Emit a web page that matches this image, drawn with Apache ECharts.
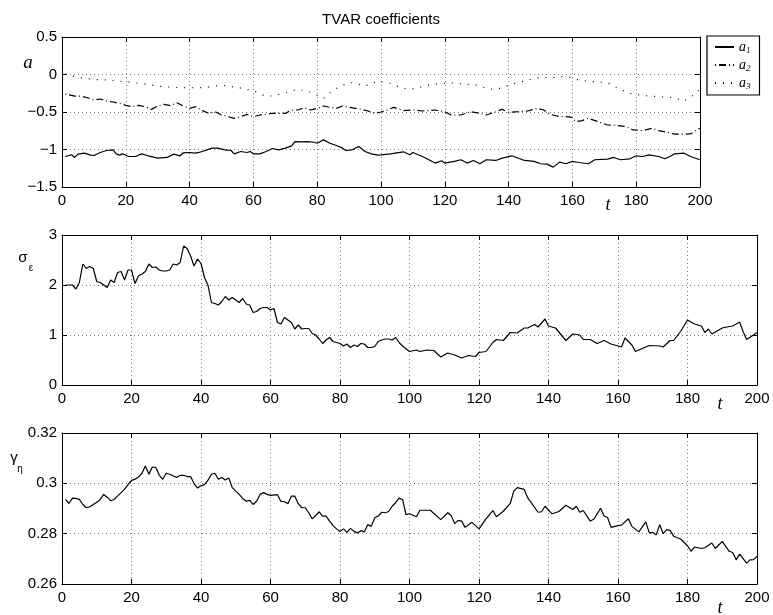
<!DOCTYPE html>
<html><head><meta charset="utf-8">
<script src="https://cdn.jsdelivr.net/npm/echarts@6/dist/echarts.min.js"></script>
<style>html,body{margin:0;padding:0;background:#fff}#c{width:773px;height:615px}</style>
</head><body><div id="c"></div>
<script>
// ---- data ----
const tA1 = [1,3,4,5,7,9,10,12,14,16,17,18,19,21,23,25,27,30,33,35,37,38,40,42,44,47,49,51,53,54,56,58,59,60,62,64,66,68,70,72,73,75,77,79,80,81,82,84,86,88,89,91,93,95,97,99,100,103,107,109,110,113,117,119,120,123,125,127,129,131,133,136,138,141,145,148,150,152,154,156,158,160,162,165,167,171,173,175,178,180,182,184,187,189,191,192,195,197,200];
const a1 = [-1.093,-1.07,-1.106,-1.062,-1.049,-1.075,-1.08,-1.04,-1.013,-1.004,-1.058,-1.075,-1.058,-1.093,-1.093,-1.058,-1.084,-1.115,-1.106,-1.062,-1.084,-1.044,-1.04,-1.049,-1.027,-0.982,-0.982,-1.004,-1.013,-1.058,-1.027,-1.04,-1.027,-1.058,-1.058,-1.027,-0.987,-1.004,-0.982,-0.951,-0.894,-0.898,-0.894,-0.903,-0.916,-0.894,-0.872,-0.916,-0.947,-0.982,-1.013,-1.004,-0.96,-1.027,-1.058,-1.075,-1.071,-1.058,-1.031,-1.071,-1.04,-1.093,-1.181,-1.15,-1.181,-1.159,-1.137,-1.181,-1.146,-1.19,-1.137,-1.146,-1.115,-1.084,-1.146,-1.159,-1.19,-1.195,-1.235,-1.168,-1.19,-1.159,-1.173,-1.19,-1.137,-1.128,-1.106,-1.137,-1.124,-1.084,-1.093,-1.071,-1.093,-1.124,-1.084,-1.058,-1.049,-1.093,-1.137];
const tA2 = [1,4,6,8,10,12,14,16,18,20,22,24,26,28,30,32,34,36,38,40,42,44,46,48,50,52,54,56,58,60,62,64,66,68,70,72,74,76,78,80,82,84,86,88,90,92,94,96,98,100,102,104,107,110,113,117,120,122,125,128,131,133,136,138,140,143,146,149,151,153,156,158,160,161,163,165,169,171,174,177,179,182,185,187,190,192,195,197,199,200];
const a2 = [-0.261,-0.288,-0.288,-0.31,-0.34,-0.327,-0.354,-0.367,-0.385,-0.411,-0.429,-0.411,-0.429,-0.465,-0.42,-0.398,-0.416,-0.376,-0.42,-0.451,-0.429,-0.482,-0.518,-0.496,-0.54,-0.562,-0.584,-0.562,-0.531,-0.562,-0.54,-0.527,-0.518,-0.518,-0.518,-0.473,-0.473,-0.442,-0.473,-0.451,-0.42,-0.438,-0.451,-0.42,-0.438,-0.451,-0.465,-0.487,-0.518,-0.5,-0.473,-0.438,-0.482,-0.473,-0.487,-0.473,-0.496,-0.54,-0.54,-0.496,-0.518,-0.54,-0.496,-0.465,-0.504,-0.496,-0.487,-0.451,-0.473,-0.531,-0.562,-0.562,-0.571,-0.628,-0.615,-0.584,-0.642,-0.673,-0.681,-0.695,-0.739,-0.748,-0.717,-0.748,-0.774,-0.796,-0.796,-0.792,-0.739,-0.717];
const tA3 = [1,5,10,15,20,25,30,35,40,45,50,55,60,63,66,70,74,78,82,85,88,91,95,99,103,106,109,112,115,119,122,126,130,134,137,142,146,150,154,158,162,167,171,175,179,183,187,192,195,198,200];
const a3 = [0.004,-0.04,-0.066,-0.075,-0.097,-0.119,-0.155,-0.173,-0.177,-0.173,-0.142,-0.173,-0.217,-0.274,-0.288,-0.243,-0.195,-0.239,-0.319,-0.208,-0.142,-0.106,-0.155,-0.088,-0.119,-0.173,-0.199,-0.173,-0.142,-0.119,-0.111,-0.128,-0.142,-0.199,-0.186,-0.119,-0.075,-0.04,-0.04,-0.022,-0.075,-0.097,-0.111,-0.199,-0.265,-0.283,-0.296,-0.31,-0.354,-0.274,-0.199];
const tSig = [1,3,4,5,6,7,8,9,10,11,12,13,14,15,16,17,18,19,20,21,22,23,24,25,26,27,28,29,30,31,32,33,34,35,36,37,38,39,40,41,42,43,44,45,46,47,48,49,50,51,52,53,54,55,56,57,58,59,60,61,62,63,64,65,66,67,68,69,70,71,72,73,74,75,76,77,78,79,80,81,82,83,84,85,86,87,88,89,90,91,92,93,94,95,96,97,98,100,102,103,105,107,109,111,113,115,117,119,120,122,124,125,127,129,131,133,134,136,137,139,140,142,145,147,149,150,152,154,156,158,161,162,164,165,167,169,172,173,175,176,178,180,182,184,185,186,187,189,190,192,193,195,196,197,199,200];
const sigma = [2.0,2.0,1.92,2.05,2.42,2.33,2.37,2.33,2.07,2.05,2.0,1.95,2.1,2.05,2.25,2.27,2.1,2.3,2.3,2.03,2.18,2.22,2.27,2.42,2.35,2.36,2.3,2.28,2.28,2.3,2.42,2.4,2.45,2.78,2.73,2.58,2.38,2.52,2.43,2.15,2.0,1.65,1.63,1.6,1.67,1.77,1.7,1.75,1.7,1.65,1.73,1.62,1.6,1.45,1.47,1.53,1.55,1.55,1.5,1.53,1.25,1.22,1.35,1.3,1.25,1.12,1.2,1.12,1.13,1.13,1.03,1.0,0.92,0.83,0.9,0.95,0.87,0.85,0.83,0.78,0.82,0.75,0.8,0.77,0.83,0.82,0.75,0.75,0.77,0.87,0.9,0.92,0.92,0.9,0.95,0.85,0.78,0.67,0.70,0.67,0.70,0.69,0.56,0.64,0.60,0.54,0.59,0.57,0.65,0.67,0.85,0.91,0.89,1.05,1.04,1.14,1.14,1.21,1.16,1.32,1.18,1.14,0.89,1.02,1.0,0.91,0.91,0.83,0.89,0.82,0.76,0.94,0.8,0.67,0.73,0.79,0.78,0.76,0.89,0.89,1.07,1.3,1.22,1.18,1.05,1.12,1.02,1.1,1.14,1.17,1.18,1.26,1.07,0.91,1.0,1.05];
const tGam = [1,2,3,4,5,6,7,8,10,11,12,13,14,15,17,18,19,20,21,22,23,24,25,26,27,28,29,30,31,33,34,35,36,37,38,39,40,41,42,43,44,45,46,47,48,49,50,51,52,53,54,55,56,57,58,59,60,62,63,64,65,66,67,68,69,70,71,72,73,74,75,76,77,78,79,80,81,82,83,84,85,86,87,88,89,90,91,92,93,94,95,96,97,98,99,100,102,103,106,109,111,112,113,114,115,116,118,120,122,124,125,127,129,130,131,133,134,137,138,139,141,143,145,147,148,149,150,152,153,155,156,157,158,160,161,163,164,166,168,169,170,171,172,173,174,175,176,178,180,181,182,184,185,187,188,190,192,193,194,195,197,198,199,200];
const gamma = [0.2936,0.292,0.2941,0.294,0.2936,0.2916,0.2903,0.2907,0.2925,0.2936,0.2956,0.2945,0.2931,0.2936,0.2963,0.2976,0.2995,0.3012,0.3016,0.3025,0.304,0.3069,0.3036,0.3065,0.3063,0.3032,0.3016,0.304,0.3036,0.3023,0.3032,0.3032,0.3027,0.3027,0.2999,0.2981,0.299,0.2995,0.3012,0.3036,0.304,0.3016,0.3023,0.3013,0.3021,0.2983,0.2969,0.2956,0.294,0.2929,0.2932,0.2916,0.2929,0.2956,0.2963,0.2956,0.2952,0.2955,0.2928,0.2927,0.2919,0.2949,0.2949,0.2919,0.2903,0.2903,0.2883,0.2859,0.2872,0.2887,0.287,0.287,0.285,0.2832,0.2819,0.2809,0.2819,0.2805,0.2821,0.2809,0.2803,0.2812,0.2807,0.2836,0.2829,0.2863,0.287,0.2885,0.2883,0.2888,0.2909,0.2923,0.2941,0.2936,0.2876,0.2879,0.2867,0.2893,0.2893,0.2856,0.2883,0.2872,0.284,0.2853,0.285,0.2825,0.2845,0.2819,0.2859,0.2892,0.2867,0.2889,0.292,0.2969,0.2983,0.2976,0.2943,0.2885,0.2887,0.2909,0.2879,0.2888,0.2913,0.2896,0.2909,0.2885,0.2892,0.285,0.2857,0.2901,0.287,0.2864,0.2825,0.2832,0.2834,0.2859,0.2829,0.2807,0.2847,0.2803,0.2805,0.2795,0.2836,0.28,0.2816,0.2813,0.279,0.2779,0.2752,0.273,0.2747,0.2741,0.2744,0.2763,0.2741,0.2769,0.273,0.2725,0.2696,0.2719,0.2683,0.2696,0.2697,0.2709];
const seriesNames = ['a1','a2','a3'];
const xRange = [0, 200, 20];
const yRanges = [[-1.5, 0.5, 0.5], [0, 3, 1], [0.26, 0.32, 0.02]];

// ---- chart ----
const chart = echarts.init(document.getElementById('c'), null, {renderer:'canvas'});
const grids = [
  {left:62, top:37, width:638, height:150},
  {left:62, top:235, width:695, height:150},
  {left:62, top:433, width:695, height:151}
];
const FONT = 'Liberation Sans';
const gridLine = {show:true, lineStyle:{color:'#777', width:1, type:[1,3]}};
const xAxes = [], yAxes = [];
grids.forEach((g, gi) => {
  const common = {gridIndex:gi, type:'value', min:xRange[0], max:xRange[1], interval:xRange[2],
    axisLine:{show:true, onZero:false, lineStyle:{color:'#000', width:1}},
    axisTick:{show:true, inside:true, length:5, lineStyle:{color:'#000'}}};
  xAxes.push(Object.assign({}, common, {position:'bottom',
    axisLabel:{color:'#000', fontSize:15, fontFamily:FONT, margin:6},
    splitLine:gridLine}));
  xAxes.push(Object.assign({}, common, {position:'top', axisLabel:{show:false}, splitLine:{show:false}}));
  const [ymin, ymax, yint] = yRanges[gi];
  const ycommon = {gridIndex:gi, type:'value', min:ymin, max:ymax, interval:yint,
    axisLine:{show:true, onZero:false, lineStyle:{color:'#000', width:1}},
    axisTick:{show:true, inside:true, length:5, lineStyle:{color:'#000'}}};
  yAxes.push(Object.assign({}, ycommon, {position:'left',
    axisLabel:{color:'#000', fontSize:15, fontFamily:FONT, margin:5,
      formatter: v => String(+v.toFixed(4)).replace('-', '\u2212')},
    splitLine:gridLine}));
  yAxes.push(Object.assign({}, ycommon, {position:'right', axisLabel:{show:false}, splitLine:{show:false}}));
});
const zip = (t, v) => t.map((x, i) => [x, v[i]]);
const lineSeries = (name, t, v, gi, type) => ({
  name, type:'line', xAxisIndex:2*gi, yAxisIndex:2*gi, data:zip(t, v),
  symbol:'none', showSymbol:false, animation:false, silent:true,
  lineStyle:{color:'#000', width:1.2, type}, itemStyle:{color:'#000'}
});
const option = {
  animation:false,
  grid:grids,
  xAxis:xAxes,
  yAxis:yAxes,
  legend:{
    data:seriesNames, orient:'vertical', left:707, top:36,
    padding:[4,9,4,7], itemGap:3, itemWidth:19, itemHeight:14,
    backgroundColor:'#fff', borderColor:'#000', borderWidth:1.2, borderRadius:0,
    selectedMode:false,
    itemStyle:{opacity:0},
    formatter: n => '{i|a}{s|' + n.slice(1) + '}',
    textStyle:{color:'#000', rich:{
      i:{fontFamily:'Liberation Serif', fontStyle:'italic', fontSize:14, lineHeight:16, color:'#000'},
      s:{fontFamily:'Liberation Serif', fontStyle:'italic', fontSize:9, lineHeight:9, verticalAlign:'bottom', color:'#000'}
    }}
  },
  series:[
    lineSeries(seriesNames[0], tA1, a1, 0, 'solid'),
    lineSeries(seriesNames[1], tA2, a2, 0, [1,3,7,3]),
    lineSeries(seriesNames[2], tA3, a3, 0, [1,7]),
    lineSeries('sigma', tSig, sigma, 1, 'solid'),
    lineSeries('gamma', tGam, gamma, 2, 'solid')
  ],
  graphic:[
    {type:'text', x:381, y:20, style:{text:'TVAR coefficients', font:'15px "Liberation Sans"', fill:'#000', align:'center', verticalAlign:'middle'}},
    {type:'text', x:28, y:63, style:{text:'a', font:'italic 19px "Liberation Serif"', fill:'#000', align:'center', verticalAlign:'middle'}},
    {type:'text', x:23, y:258, style:{text:'σ', font:'15px "Liberation Sans"', fill:'#000', align:'center', verticalAlign:'middle'}},
    {type:'text', x:31, y:268, style:{text:'ε', font:'10px "Liberation Sans"', fill:'#000', align:'center', verticalAlign:'middle'}},
    {type:'text', x:14, y:458, style:{text:'γ', font:'15px "Liberation Sans"', fill:'#000', align:'center', verticalAlign:'middle'}},
    {type:'text', x:20, y:469, style:{text:'η', font:'10px "Liberation Sans"', fill:'#000', align:'center', verticalAlign:'middle'}},
    {type:'text', x:608, y:205, style:{text:'t', font:'italic 18px "Liberation Serif"', fill:'#000', align:'center', verticalAlign:'middle'}},
    {type:'text', x:720, y:404, style:{text:'t', font:'italic 18px "Liberation Serif"', fill:'#000', align:'center', verticalAlign:'middle'}},
    {type:'text', x:720, y:608, style:{text:'t', font:'italic 18px "Liberation Serif"', fill:'#000', align:'center', verticalAlign:'middle'}}
  ]
};
chart.setOption(option);
</script></body></html>
